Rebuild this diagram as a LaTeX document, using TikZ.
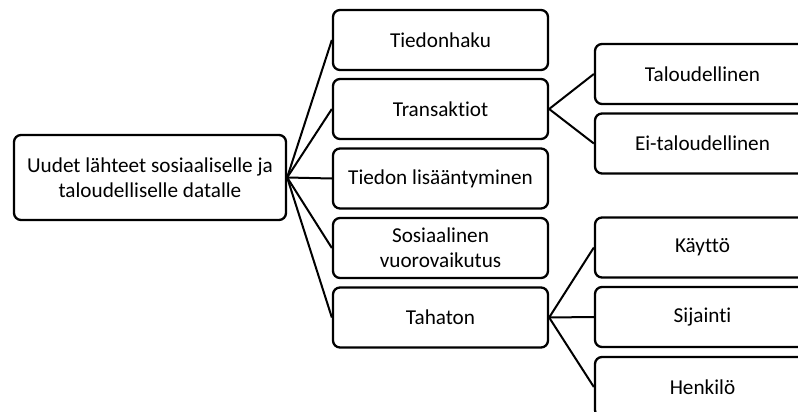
\documentclass[tikz,border=0pt]{standalone}
\usepackage{fontspec}
\setmainfont{Carlito}[Ligatures=NoCommon]
\begin{document}
\begin{tikzpicture}[x=1pt,y=-1pt,
  box/.style={draw=black,line width=2.3pt,rounded corners=7pt,fill=white,
    minimum width=215pt,minimum height=60pt,align=center,inner sep=2pt,
    font=\fontsize{21.2}{25}\selectfont},
  rootbox/.style={box,minimum width=272pt,minimum height=85pt},
  link/.style={line width=2pt}]
\useasboundingbox (0,0) rectangle (798,412);
\clip (0,0) rectangle (798,412);
\fill[white] (0,0) rectangle (798,412);

% root
\node[rootbox] (root) at (150,177.5) {Uudet lähteet sosiaaliselle ja\\taloudelliselle datalle};

% first level
\node[box] (haku) at (440.5,40) {Tiedonhaku};
\node[box] (trans) at (440.5,109) {Transaktiot};
\node[box] (lisa) at (440.5,178.5) {Tiedon lisääntyminen};
\node[box] (sos) at (440.5,248) {Sosiaalinen\\vuorovaikutus};
\node[box] (taha) at (440.5,317.5) {Tahaton};

% second level
\node[box] (talo) at (702.5,74) {Taloudellinen};
\node[box] (eitalo) at (702.5,143.5) {Ei-taloudellinen};
\node[box] (kaytto) at (702.5,247.5) {Käyttö};
\node[box] (sij) at (702.5,317) {Sijainti};
\node[box] (henk) at (702.5,387) {Henkilö};

% connectors
\foreach \t in {haku,trans,lisa,sos,taha}
  \draw[link] (root.east) -- (\t.west);
\foreach \t in {talo,eitalo}
  \draw[link] (trans.east) -- (\t.west);
\foreach \t in {kaytto,sij,henk}
  \draw[link] (taha.east) -- (\t.west);
\end{tikzpicture}
\end{document}
